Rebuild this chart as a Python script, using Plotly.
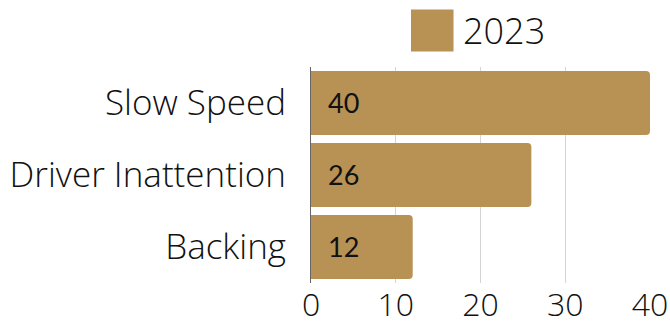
import plotly.graph_objects as go

categories = ["Slow Speed", "Driver Inattention", "Backing"]
values_2023 = [40, 26, 12]
series_name = "2023"
tick_values = [0, 10, 20, 30, 40]

bar_color = "#B89154"
font_family = "Open Sans"

fig = go.Figure()
fig.add_trace(go.Bar(
    y=categories,
    x=values_2023,
    orientation="h",
    name=series_name,
    marker=dict(color=bar_color, line=dict(width=0)),
    showlegend=False,
    hoverinfo="skip",
))

# value labels at the start of each bar
for cat, val in zip(categories, values_2023):
    fig.add_annotation(
        x=0, y=cat, xref="x", yref="y",
        text=str(val), showarrow=False,
        xanchor="left", yanchor="middle", xshift=15, yshift=1,
        font=dict(family="Lato", size=27, color="#111111"),
    )

# legend: swatch + label
fig.add_shape(
    type="rect", xref="paper", yref="paper",
    x0=(411 - 311) / 339, x1=(453.5 - 311) / 339,
    y0=(329 - 46 - 51.5) / 216, y1=(329 - 46 - 9.5) / 216,
    fillcolor=bar_color, line=dict(width=0),
)
fig.add_annotation(
    x=(461 - 311) / 339, y=(329 - 46 - 31) / 216, xref="paper", yref="paper",
    text=series_name, showarrow=False, xanchor="left", yanchor="middle",
    font=dict(family=font_family, size=36, color="#111111", weight=300),
)

fig.update_layout(
    width=670, height=329,
    margin=dict(l=311, r=20, t=67, b=46),
    paper_bgcolor="white", plot_bgcolor="white",
    bargap=0.11,
    font=dict(family=font_family, color="#111111"),
    barcornerradius=4,
    xaxis=dict(
        range=[0, 40], tickvals=tick_values, automargin=False,
        showgrid=True, gridcolor="#d4d4d4", gridwidth=1,
        zeroline=False, showline=False,
        tickfont=dict(family=font_family, size=32, color="#111111", weight=300),
        ticks="", ticklabelstandoff=0,
    ),
    yaxis=dict(
        categoryorder="array", categoryarray=categories[::-1], automargin=False,
        showgrid=False, zeroline=False,
        showline=True, linecolor="#666666", linewidth=1,
        tickfont=dict(family=font_family, size=35, color="#111111", weight=300),
        ticks="", ticklabelstandoff=17,
    ),
)

fig.write_html("out.html")
